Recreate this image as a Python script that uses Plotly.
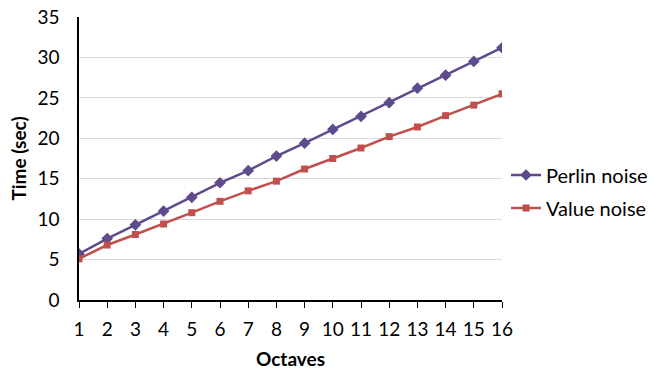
import plotly.graph_objects as go

octaves = list(range(1, 17))
perlin = [5.7, 7.6, 9.3, 11.0, 12.7, 14.5, 16.0, 17.8, 19.4, 21.1, 22.7, 24.4, 26.2, 27.8, 29.5, 31.2]
value = [5.1, 6.8, 8.1, 9.4, 10.8, 12.2, 13.5, 14.7, 16.2, 17.5, 18.8, 20.2, 21.4, 22.8, 24.1, 25.5]
y_ticks = [0, 5, 10, 15, 20, 25, 30, 35]

FONT = "Lato"
fig = go.Figure()
fig.add_trace(go.Scatter(x=octaves, y=perlin, name="Perlin noise", mode="lines+markers",
                         line=dict(color="#5E4A8C", width=2.5),
                         marker=dict(symbol="diamond", size=9, color="#5E4A8C"),
                         legend="legend"))
fig.add_trace(go.Scatter(x=octaves, y=value, name="Value noise", mode="lines+markers",
                         line=dict(color="#C0504D", width=2.5),
                         marker=dict(symbol="square", size=7, color="#C0504D"),
                         legend="legend2"))

fig.update_layout(
    width=657, height=372,
    margin=dict(l=79, r=155, t=17, b=72, autoexpand=False),
    plot_bgcolor="white", paper_bgcolor="white",
    font=dict(family=FONT, size=19, color="#000000"),
    xaxis=dict(range=[1, 16], tickvals=octaves, ticktext=[str(o) for o in octaves],
               showgrid=False, zeroline=False, showline=True, linecolor="#000000", linewidth=1.5,
               ticks="outside", ticklen=6, tickcolor="#000000", tickwidth=1.2,
               ticklabelstandoff=5, automargin=False,
               title=dict(text="<b>Octaves</b>", font=dict(size=19), standoff=14)),
    yaxis=dict(range=[0, 35], tickvals=y_ticks, showgrid=True, gridcolor="#D9D9D9", gridwidth=1,
               zeroline=False, showline=True, linecolor="#000000", linewidth=1.5,
               ticks="", ticklabelstandoff=14, automargin=False,
               title=dict(text="<b>Time (sec)</b>", font=dict(size=19), standoff=6)),
    legend=dict(x=1.0095, xanchor="left", y=0.4417, yanchor="middle",
                font=dict(size=20), bgcolor="rgba(0,0,0,0)"),
    legend2=dict(x=1.0095, xanchor="left", y=0.325, yanchor="middle",
                 font=dict(size=20), bgcolor="rgba(0,0,0,0)"),
    showlegend=True,
)

fig.write_html("out.html")
